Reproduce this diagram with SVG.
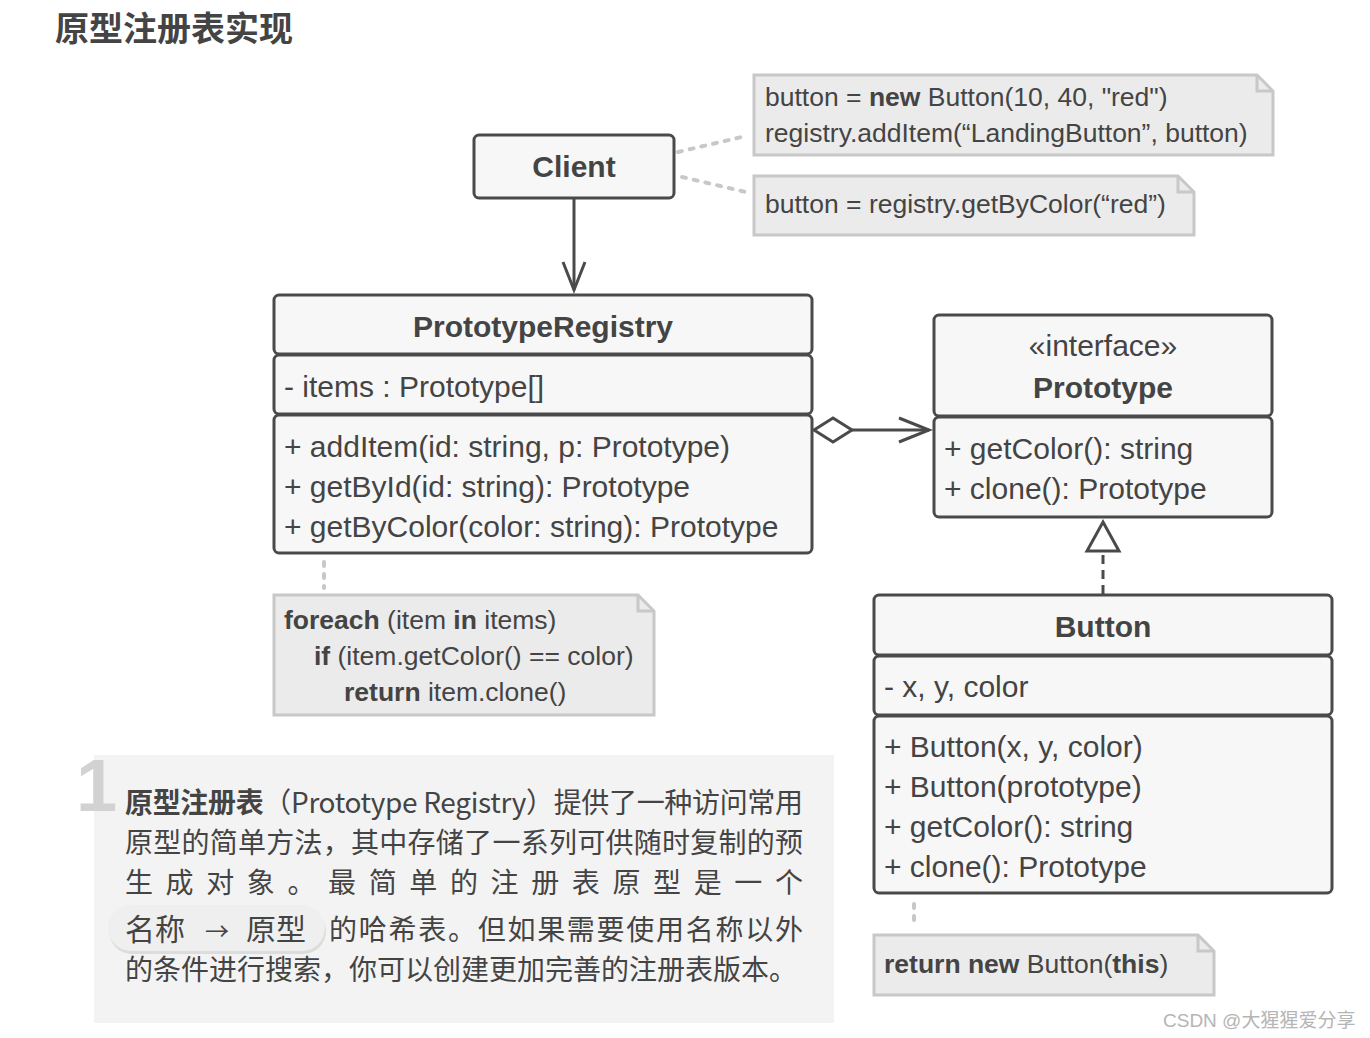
<svg xmlns="http://www.w3.org/2000/svg" width="1370" height="1038" viewBox="0 0 1370 1038">
<style>
.bg{fill:#ffffff}
.box{fill:#f7f7f7;stroke:#4a4a4a;stroke-width:3}
.note{fill:#ebebeb;stroke:#c8c8c8;stroke-width:3}
.fold{fill:none;stroke:#c8c8c8;stroke-width:3}
.t{font-family:"Liberation Sans",Arial,sans-serif;fill:#444;font-size:30px}
.nt{font-size:26.5px}
.b{font-weight:bold}
.c{text-anchor:middle}
.cjk{font-family:"Noto Sans CJK SC","Liberation Sans",sans-serif;fill:#444;font-size:28px}
.line{stroke:#4a4a4a;stroke-width:3;fill:none}
.dot{stroke:#c8c8c8;stroke-width:4;stroke-dasharray:4 8;fill:none;stroke-linecap:round}
</style>
<rect class="bg" x="0" y="0" width="1370" height="1038"/>
<text class="cjk" x="55" y="41" style="font-size:34px;font-weight:bold">原型注册表实现</text>

<g id="connectors">
  <path class="dot" d="M678,152 L746,136"/>
  <path class="dot" d="M682,177 L750,193"/>
  <path class="line" d="M574,199 V290"/>
  <path class="line" d="M563,262 L574,290 L585,262"/>
  <path class="line" d="M814,430 L833,418 L852,430 L833,442 Z" style="fill:#fff"/>
  <path class="line" d="M852,430 H929"/>
  <path class="line" d="M899,418 L929,430 L899,442"/>
  <path class="line" d="M1103,555 V594" style="stroke-dasharray:9 6"/>
  <path class="line" d="M1103,522 L1119,551 L1087,551 Z" style="fill:#fff"/>
  <path class="dot" d="M324,562 V588"/>
  <path class="dot" d="M914,904 V928"/>
</g>

<g id="note-client-1">
  <path class="note" d="M754,75 H1257 L1273,91 V155 H754 Z"/>
  <path class="fold" d="M1257,75 V91 H1273"/>
  <text class="t nt" x="765" y="106">button = <tspan class="b">new</tspan> Button(10, 40, "red")</text>
  <text class="t nt" x="765" y="142">registry.addItem(“LandingButton”, button)</text>
</g>
<g id="note-client-2">
  <path class="note" d="M754,176 H1178 L1194,192 V235 H754 Z"/>
  <path class="fold" d="M1178,176 V192 H1194"/>
  <text class="t nt" x="765" y="213">button = registry.getByColor(“red”)</text>
</g>

<g id="client">
  <rect class="box" x="474" y="135" width="200" height="63" rx="5"/>
  <text class="t b c" x="574" y="177">Client</text>
</g>

<g id="prototype-registry">
  <rect class="box" x="274" y="295" width="538" height="59" rx="5"/>
  <rect class="box" x="274" y="355" width="538" height="59" rx="5"/>
  <rect class="box" x="274" y="415" width="538" height="138" rx="5"/>
  <text class="t b c" x="543" y="337">PrototypeRegistry</text>
  <text class="t" x="284" y="397">- items : Prototype[]</text>
  <text class="t" x="284" y="457">+ addItem(id: string, p: Prototype)</text>
  <text class="t" x="284" y="497">+ getById(id: string): Prototype</text>
  <text class="t" x="284" y="537">+ getByColor(color: string): Prototype</text>
</g>

<g id="prototype">
  <rect class="box" x="934" y="315" width="338" height="101" rx="5"/>
  <rect class="box" x="934" y="417" width="338" height="100" rx="5"/>
  <text class="t c" x="1103" y="356">«interface»</text>
  <text class="t b c" x="1103" y="398">Prototype</text>
  <text class="t" x="944" y="459">+ getColor(): string</text>
  <text class="t" x="944" y="499">+ clone(): Prototype</text>
</g>

<g id="note-registry">
  <path class="note" d="M274,595 H638 L654,611 V715 H274 Z"/>
  <path class="fold" d="M638,595 V611 H654"/>
  <text class="t nt" x="284" y="629"><tspan class="b">foreach</tspan> (item <tspan class="b">in</tspan> items)</text>
  <text class="t nt" x="314" y="665"><tspan class="b">if</tspan> (item.getColor() == color)</text>
  <text class="t nt" x="344" y="701"><tspan class="b">return</tspan> item.clone()</text>
</g>

<g id="button">
  <rect class="box" x="874" y="595" width="458" height="60" rx="5"/>
  <rect class="box" x="874" y="656" width="458" height="59" rx="5"/>
  <rect class="box" x="874" y="716" width="458" height="177" rx="5"/>
  <text class="t b c" x="1103" y="637">Button</text>
  <text class="t" x="884" y="697">- x, y, color</text>
  <text class="t" x="884" y="757">+ Button(x, y, color)</text>
  <text class="t" x="884" y="797">+ Button(prototype)</text>
  <text class="t" x="884" y="837">+ getColor(): string</text>
  <text class="t" x="884" y="877">+ clone(): Prototype</text>
</g>

<g id="note-button">
  <path class="note" d="M874,935 H1198 L1214,951 V995 H874 Z"/>
  <path class="fold" d="M1198,935 V951 H1214"/>
  <text class="t nt" x="884" y="973"><tspan class="b">return new</tspan> Button(<tspan class="b">this</tspan>)</text>
</g>

<g id="description">
  <rect x="94" y="755" width="740" height="268" fill="#f3f3f3"/>
  <text x="76" y="811" style="font-family:'Liberation Sans',Arial,sans-serif;font-weight:bold;font-size:74px;fill:#d2d2d2">1</text>
  <text class="cjk" x="125" y="813" textLength="678" lengthAdjust="spacing"><tspan style="font-weight:bold">原型注册表</tspan>（Prototype Registry）提供了一种访问常用</text>
  <text class="cjk" x="125" y="853" textLength="678" lengthAdjust="spacing">原型的简单方法，其中存储了一系列可供随时复制的预</text>
  <text class="cjk" x="125" y="893" textLength="678" lengthAdjust="spacing">生成对象。最简单的注册表原型是一个</text>
  <rect x="109" y="908" width="217" height="46" rx="23" fill="#dcdcdc"/>
  <rect x="108" y="905" width="217" height="46" rx="23" fill="#efefef"/>
  <text class="cjk" x="125" y="940" style="font-size:30px">名称</text>
  <text class="cjk" x="205" y="940" style="font-size:24px">→</text>
  <text class="cjk" x="246" y="940" style="font-size:30px">原型</text>
  <text class="cjk" x="329" y="940" textLength="474" lengthAdjust="spacing">的哈希表。但如果需要使用名称以外</text>
  <text class="cjk" x="125" y="980">的条件进行搜索，你可以创建更加完善的注册表版本。</text>
</g>

<text x="1163" y="1027" style="font-family:'Liberation Sans','Noto Sans CJK SC',sans-serif;font-size:19px;fill:#b5b5b5">CSDN @大猩猩爱分享</text>
</svg>
